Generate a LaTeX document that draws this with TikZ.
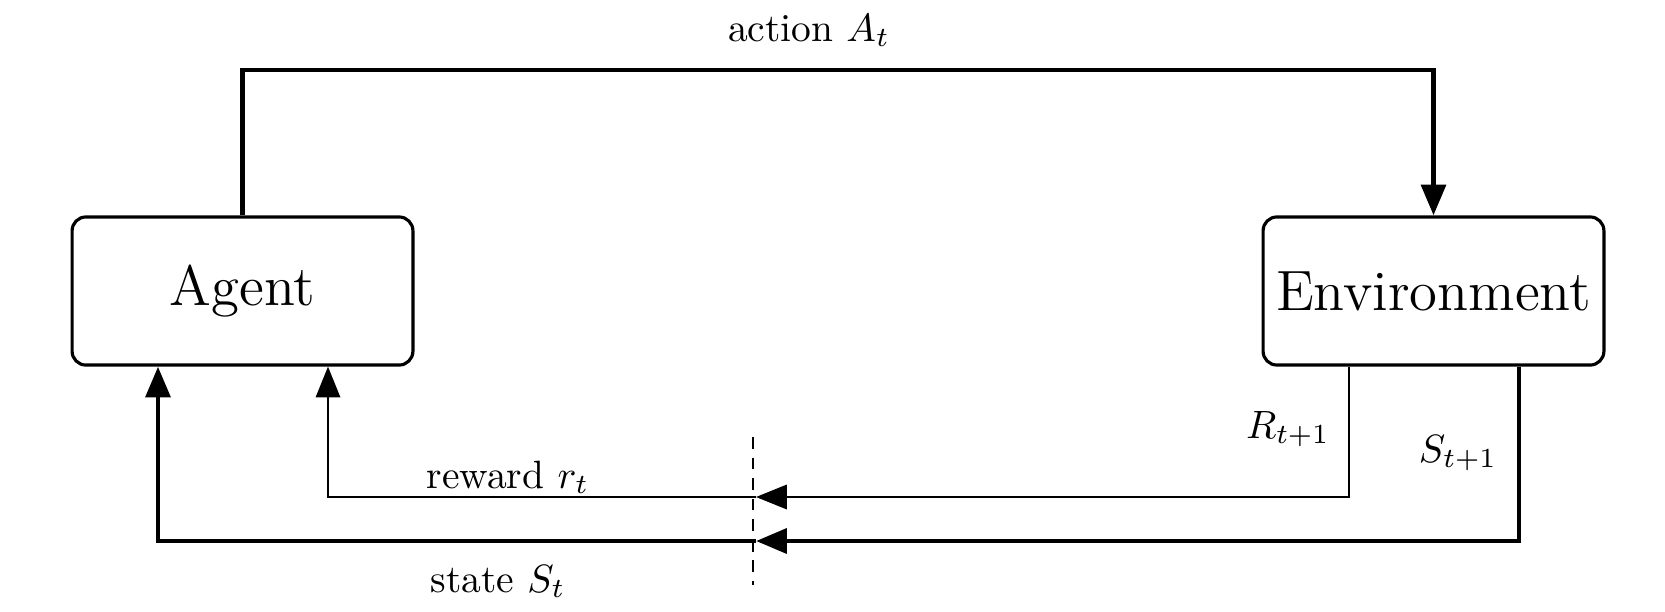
\documentclass[tikz,border=0pt]{standalone}
\usetikzlibrary{arrows.meta}
\begin{document}
\begin{tikzpicture}[x=0.2532pt, y=-0.2532pt,
  box/.style={draw, line width=0.8pt, rounded corners=3.5pt, minimum width=86.3pt, minimum height=37.5pt, inner sep=0pt, font=\Large},
  thickline/.style={line width=1.25pt},
  thinline/.style={line width=0.45pt},
  tip/.style={-{Triangle[length=7.8pt,width=6.2pt]}},
  lbl/.style={anchor=base, inner sep=0pt}
]
\useasboundingbox (0,0) rectangle (1665,611);
\node[box] (agent) at (242.5,291) {Agent};
\node[box] (env) at (1433.5,291) {Environment};

\coordinate (atop) at (242.5,70);
\coordinate (etop) at (1433.5,70);
\draw[thickline, tip] (agent.north) -- (atop) -- (etop) -- (env.north);

\coordinate (rstart) at ([xshift={-84.5*0.2532pt}]env.south);
\coordinate (sstart) at ([xshift={85.5*0.2532pt}]env.south);
\coordinate (rend) at ([xshift={85.5*0.2532pt}]agent.south);
\coordinate (send) at ([xshift={-84.5*0.2532pt}]agent.south);
\coordinate (rmid) at (756,497);
\coordinate (smid) at (756,541);

\draw[thinline, tip] (rstart) |- (rmid);
\draw[thinline, tip] (rmid) -| (rend);
\draw[thickline, tip] (sstart) |- (smid);
\draw[thickline, tip] (smid) -| (send);

\coordinate (dtop) at (753,437);
\coordinate (dbot) at (753,585);
\draw[thinline, dash pattern=on 3pt off 2.2pt] (dtop) -- (dbot);

\node[lbl] (la) at (809,41) {action $A_t$};
\node[lbl] (lr) at (508,488) {reward $r_t$};
\node[lbl] (ls) at (498,592) {state $S_t$};
\node[lbl] (lR) at (1288,438) {$R_{t+1}$};
\node[lbl] (lS) at (1458,462) {$S_{t+1}$};
\end{tikzpicture}
\end{document}
